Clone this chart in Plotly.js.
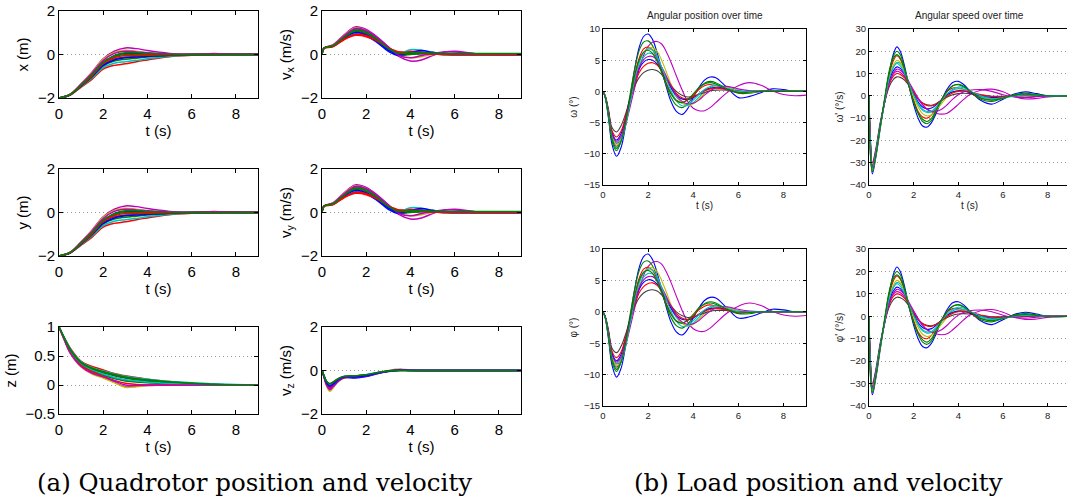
<!DOCTYPE html>
<html><head><meta charset="utf-8">
<script src="https://cdn.plot.ly/plotly-3.0.1.min.js"></script>
<style>html,body{margin:0;padding:0;overflow:hidden;background:#fff}#chart{width:1072px;height:503px}</style>
</head><body><div id="chart"></div>
<script>
// ---------- DATA ----------
const tPos = [0,0.5,1,1.5,2,2.5,3,3.5,4,5,6,7,8,9];
const posCurves = [
  [-2,-1.83,-1.35,-0.8,-0.2,0.15,0.3,0.27,0.18,0.05,0.0,0.05,0.0,0],
  [-2,-1.83,-1.36,-0.82,-0.22,0.1,0.2,0.15,0.08,0.02,0,0,0,0],
  [-2,-1.85,-1.42,-0.95,-0.4,-0.05,0.05,0.05,0.03,0,0,0,0,0],
  [-2,-1.84,-1.4,-0.9,-0.35,-0.1,0.0,0.0,0,-0.02,0,0,0,0],
  [-2,-1.87,-1.5,-1.13,-0.67,-0.5,-0.43,-0.33,-0.25,-0.1,-0.04,-0.01,0,0],
  [-2,-1.86,-1.48,-1.08,-0.6,-0.4,-0.33,-0.27,-0.2,-0.08,-0.03,0,0,0],
  [-2,-1.85,-1.44,-0.98,-0.45,-0.2,-0.12,-0.1,-0.08,-0.04,-0.02,0,0,0],
  [-2,-1.86,-1.46,-1.03,-0.52,-0.3,-0.22,-0.17,-0.12,-0.05,0,0,0,0],
  [-2,-1.86,-1.45,-1.0,-0.5,-0.25,-0.15,-0.12,-0.08,-0.03,0,0,0,0],
  [-2,-1.84,-1.37,-0.85,-0.28,0.05,0.15,0.12,0.08,0.02,0.0,0.03,0.01,0],
  [-2,-1.85,-1.43,-0.97,-0.42,-0.15,-0.05,-0.05,-0.04,-0.02,0,0,0,0],
  [-2,-1.84,-1.41,-0.92,-0.36,-0.05,0.08,0.08,0.05,0.01,0,0,0,0]
];
const posColors = ['m','y','b','g','r','c','k','g','b','m','r','g'];

const tVel = [0,0.1,0.5,1,1.5,2,2.5,3,3.5,4,4.5,5,5.5,6,7,8,9];
const velCurves = [
  [0,0.3,0.45,0.9,1.27,1.15,0.8,0.35,-0.1,-0.3,-0.25,-0.05,0.1,0.15,0.03,0,0],
  [0,0.3,0.43,0.88,1.22,1.1,0.75,0.3,-0.05,-0.15,-0.1,0,0.03,0.02,0,0,0],
  [0,0.3,0.38,0.72,0.95,0.85,0.55,0.15,-0.05,0.05,0.1,0.05,0,0,0,0,0],
  [0,0.3,0.4,0.8,1.12,1.02,0.7,0.3,0.05,0.12,0.1,0.03,0,0,0,0,0],
  [0,0.28,0.36,0.68,0.88,0.82,0.6,0.3,0.12,0.15,0.1,0.05,0.02,0,0,0,0],
  [0,0.3,0.38,0.74,1.0,0.9,0.6,0.22,0.05,0.22,0.2,0.1,0.03,0,0,0,0],
  [0,0.3,0.39,0.76,1.05,0.96,0.66,0.28,0.05,0.02,0.03,0.02,0,0,0,0,0],
  [0,0.3,0.41,0.82,1.16,1.06,0.72,0.3,0.0,0.0,0.05,0.05,0.02,0,0,0,0],
  [0,0.3,0.39,0.75,1.02,0.9,0.58,0.2,0.0,0.1,0.18,0.1,0.02,0,0,0,0],
  [0,0.3,0.42,0.86,1.2,1.1,0.78,0.35,-0.05,-0.15,-0.05,0.05,0.12,0.12,0.03,0,0],
  [0,0.3,0.37,0.7,0.92,0.86,0.62,0.3,0.1,0.12,0.08,0.03,0,0,0,0,0],
  [0,0.3,0.4,0.79,1.08,1.0,0.68,0.28,0.05,0.08,0.08,0.06,0.05,0.05,0.05,0.05,0.05]
];
const velColors = ['m','y','b','g','r','c','k','g','b','m','r','g'];

const tZ = [0,0.25,0.5,1,1.5,2,2.5,3,3.5,4,5,6,7,8,9];
const zCurves = [
  [1,0.81,0.64,0.41,0.32,0.26,0.2,0.16,0.13,0.1,0.06,0.03,0.015,0,0],
  [1,0.81,0.63,0.4,0.3,0.24,0.19,0.15,0.12,0.1,0.06,0.04,0.02,0.01,0],
  [1,0.8,0.62,0.39,0.29,0.23,0.18,0.14,0.11,0.09,0.05,0.03,0.01,0,0],
  [1,0.8,0.61,0.38,0.27,0.21,0.16,0.12,0.09,0.07,0.04,0.02,0.01,0,0],
  [1,0.79,0.59,0.36,0.25,0.18,0.12,0.08,0.06,0.05,0.02,0.01,0,0,0],
  [1,0.79,0.58,0.35,0.24,0.17,0.11,0.07,0.05,0.04,0.02,0.01,0,0,0],
  [1,0.78,0.56,0.33,0.21,0.13,0.05,-0.03,-0.02,-0.01,0,0,0,0,0],
  [1,0.77,0.55,0.31,0.19,0.12,0.04,-0.04,-0.03,-0.01,0,0,0,0,0],
  [1,0.78,0.57,0.34,0.23,0.15,0.08,0.03,0.01,0,0,0,0,0,0],
  [1,0.8,0.6,0.37,0.26,0.19,0.13,0.09,0.07,0.05,0.03,0.01,0,0,0],
  [1,0.77,0.56,0.32,0.2,0.14,0.07,0.0,-0.01,0,0,0,0,0,0],
  [1,0.8,0.61,0.38,0.28,0.22,0.17,0.13,0.1,0.08,0.05,0.03,0.01,0,0]
];
const zColors = ['r','c','g','k','b','g','m','y','r','c','m','g'];

const tVz = [0,0.1,0.2,0.35,0.5,0.75,1,1.5,2,2.5,3,3.5,4,5,6,9];
const vzCurves = [
  [0,-0.35,-0.7,-0.95,-0.8,-0.5,-0.35,-0.3,-0.25,-0.12,0.0,0.07,0.02,0,0,0],
  [0,-0.33,-0.65,-0.88,-0.75,-0.48,-0.33,-0.3,-0.24,-0.12,-0.02,0.04,0.01,0,0,0],
  [0,-0.3,-0.6,-0.8,-0.7,-0.45,-0.32,-0.35,-0.28,-0.15,-0.05,0.0,0,0,0,0],
  [0,-0.3,-0.57,-0.76,-0.66,-0.42,-0.3,-0.28,-0.22,-0.1,-0.02,0.02,0,0,0,0],
  [0,-0.28,-0.52,-0.68,-0.6,-0.4,-0.28,-0.26,-0.2,-0.1,-0.03,0.01,0,0,0,0],
  [0,-0.27,-0.5,-0.64,-0.56,-0.38,-0.27,-0.24,-0.19,-0.09,-0.02,0.02,0,0,0,0],
  [0,-0.26,-0.48,-0.6,-0.53,-0.36,-0.27,-0.25,-0.2,-0.1,-0.03,0,0,0,0,0],
  [0,-0.32,-0.62,-0.84,-0.72,-0.46,-0.32,-0.31,-0.25,-0.13,-0.03,0.03,0.01,0,0,0],
  [0,-0.29,-0.55,-0.72,-0.63,-0.41,-0.29,-0.3,-0.24,-0.12,-0.03,0.01,0,0,0,0],
  [0,-0.27,-0.5,-0.62,-0.55,-0.37,-0.27,-0.25,-0.2,-0.1,-0.02,0.0,0,0,0,0]
];
const vzColors = ['y','m','b','r','g','c','k','m','b','g'];

const tAng = [0,0.1,0.25,0.4,0.6,0.8,1,1.2,1.4,1.6,1.8,2,2.2,2.4,2.6,2.8,3,3.25,3.5,3.75,4,4.25,4.5,4.75,5,5.5,6,6.5,7,7.5,8,8.5,9];
const angCurves = [
  [0,-1,-4.5,-8.5,-10.4,-9,-5.5,-1,3.5,7,8.8,9.2,8.3,6.2,3.5,0.8,-1.5,-3.2,-3.7,-2.8,-1.0,0.6,1.8,2.3,2.2,0.6,-1.0,-0.8,-0.2,0.4,0.3,0,0],
  [0,-0.8,-3.5,-6.5,-8.3,-7.8,-5.5,-2.5,0.5,3.5,5.8,7.2,7.9,8.0,7.6,6.4,4.8,2.5,0.3,-1.6,-2.7,-3.1,-3.1,-2.6,-1.8,-0.2,0.9,1.4,1.0,0.1,-0.5,-0.7,-0.6],
  [0,-1,-4.2,-8,-9.5,-8,-4.5,-0.5,3.5,6.5,7.9,8.1,7.3,5.5,3.2,1,-0.8,-2.2,-2.6,-2,-0.8,0.5,1.3,1.6,1.4,0.4,-0.3,-0.3,0,0,0,0,0],
  [0,-0.9,-3.8,-7.2,-8.8,-7.8,-4.8,-1.2,2.5,5.3,6.8,7.1,6.6,5.2,3.3,1.4,-0.2,-1.4,-1.8,-1.4,-0.6,0.3,0.9,1.1,0.9,0.3,-0.2,-0.1,0,0,0,0,0],
  [0,-0.8,-3.5,-6.8,-8.2,-7.4,-5,-1.8,1.5,4,5.5,6.1,6.0,5.2,3.8,2.2,0.6,-0.9,-1.8,-2.2,-1.8,-0.9,0,0.6,0.9,0.7,0.2,-0.1,0,0,0,0,0],
  [0,-0.8,-3.6,-7,-8.6,-7.8,-5.2,-1.7,1.8,4.5,6.2,6.9,7.0,6.4,5.0,3.2,1.3,-0.6,-1.8,-2.3,-2.0,-1.2,-0.3,0.4,0.8,0.6,0.1,-0.1,0,0,0,0,0],
  [0,-0.7,-3,-5.8,-6.5,-5.5,-3.6,-1.2,0.8,2.2,3.0,3.4,3.5,3.3,2.7,1.9,1.0,0,-0.6,-0.9,-0.8,-0.5,-0.2,0.1,0.2,0.2,0,0,0,0,0,0,0],
  [0,-0.8,-3.4,-6.6,-7.8,-6.8,-4.2,-1.2,1.6,3.6,4.7,5.1,5.0,4.4,3.3,2,0.7,-0.6,-1.2,-1.3,-1.0,-0.4,0.2,0.5,0.6,0.4,0,0,0,0,0,0,0],
  [0,-0.8,-3.3,-6.3,-7.3,-6.4,-4.1,-1.4,1.1,3.0,4.0,4.5,4.6,4.2,3.3,2.2,1,-0.3,-1.0,-1.2,-0.9,-0.4,0.1,0.4,0.5,0.3,0,0,0,0,0,0,0],
  [0,-0.8,-3.5,-6.9,-8,-7.2,-4.8,-1.6,1.4,3.8,5.1,5.6,5.6,5.0,3.9,2.5,1.0,-0.6,-1.6,-2.0,-1.9,-1.4,-0.6,0.1,0.6,0.8,0.4,0.1,0,0,0,0,0],
  [0,-0.9,-3.8,-7.4,-9,-8,-5.4,-1.8,1.8,4.6,6.2,6.8,6.6,5.6,3.9,2,0.2,-1.5,-2.3,-2.2,-1.4,-0.5,0.3,0.8,1.0,0.5,0,0,0,0,0,0,0],
  [0,-0.9,-3.9,-7.6,-9.2,-8,-5,-1.2,2.4,5.0,6.3,6.6,6.1,4.8,3.0,1.2,-0.3,-1.5,-1.8,-1.3,-0.4,0.6,1.2,1.4,1.2,0.4,-0.2,-0.1,0,0,0,0,0]
];
const angColors = ['b','m','g','r','c','y','k','b','r','m','c','g'];

const tRate = [0,0.05,0.15,0.3,0.5,0.7,0.9,1.1,1.25,1.4,1.6,1.8,2.0,2.2,2.4,2.6,2.8,3.0,3.25,3.5,3.75,4,4.25,4.5,5,5.5,6,6.5,7,7.5,8,9];
const rateCurves = [
  [0,-20,-35,-28,-15,-2,10,19,22,20,13,4,-4,-10,-13.5,-14,-12,-8,-2,3,6,6.5,5,2.5,-2,-3.7,-1.5,0.8,1.8,1.0,0,0],
  [0,-18,-32,-26,-14,-3,6,10,11,10.5,8.5,5,1.5,-1.5,-4,-6,-7,-7.8,-8.2,-7.8,-6,-3.8,-1.5,0.5,2.5,3.0,1.8,-0.3,-1.4,-1.2,-0.5,0],
  [0,-25,-33,-27,-14,-1,11,18,20,18.5,12,4,-3,-8,-11.5,-12.5,-11,-7,-2,2,4.5,5,4,2,-1.5,-2.5,-1,0.5,1.2,0.6,0,0],
  [0,-20,-34,-27,-14,-2,9,16,18,16.5,11,4,-2,-7,-9.5,-10,-8.5,-5.5,-1.5,2,3.5,3.5,2.8,1.5,-1,-1.8,-0.8,0.2,0.5,0.2,0,0],
  [0,-18,-33,-26,-14,-3,7,13,15,14.5,11,5.5,0.5,-4,-6.5,-7.5,-7.2,-5.5,-2.5,0.5,2.5,3.2,3,2,-0.5,-1.5,-1,0,0.5,0.3,0,0],
  [0,-19,-34,-27,-14,-2.5,8,14,16,15,11,5,-0.5,-5,-8,-9,-8.5,-6.5,-3.5,-0.5,1.5,2.5,2.5,2,0,-1,-0.8,0,0.3,0.2,0,0],
  [0,-15,-30,-24,-12,-3,4,7.5,8.5,8.3,7,4.5,1.5,-1.5,-3.2,-4,-4.2,-3.5,-2,-0.5,0.5,1,1.2,1,0.3,-0.2,-0.2,0,0,0,0,0],
  [0,-18,-32,-26,-13,-2.5,6.5,11.5,13,12.3,9.5,5,0.8,-2.8,-5,-5.8,-5.5,-4,-1.8,0.5,1.8,2.3,2.2,1.5,0,-0.8,-0.5,0,0.2,0,0,0],
  [0,-17,-31,-25,-13,-3,5,9,10,9.6,8,5,1.8,-1.2,-3.3,-4.3,-4.5,-3.7,-2,0,1.3,2,2.1,1.8,0.6,-0.3,-0.4,0,0.2,0,0,0],
  [0,-17,-32,-25,-13,-3,5.5,10.5,12,11.5,9.5,6,2.5,-1,-4,-6,-7,-7,-6,-4,-1.5,0.5,1.8,2.5,2.8,2,0.5,-0.5,-0.8,-0.4,0,0],
  [0,-19,-33,-26,-13.5,-2.5,7.5,13,14.5,13.5,10,5,0.5,-3.5,-6,-7,-6.8,-5,-2,1,3,4,3.6,2.4,0,-1.2,-0.8,0,0.4,0.2,0,0],
  [0,-24,-34,-27,-14,-1.5,10,17,18.5,17,11.5,4,-2.5,-7.5,-10.5,-11.5,-10,-6.5,-1.8,2.2,4.5,5.2,4.3,2.3,-1,-2,-1,0.3,0.8,0.4,0,0]
];
const rateColors = ['b','m','g','r','c','y','k','b','r','m','c','g'];

const xTitle = 't (s)';
const panelTitles = ['Angular position over time', 'Angular speed over time'];
const captions = ['(a) Quadrotor position and velocity', '(b) Load position and velocity'];

// ---------- RENDERING ----------
const W = 1072, H = 503;
const COL = {b:'#0000ff', g:'#008000', r:'#ff0000', c:'#00bfbf', m:'#bf00bf', y:'#bfbf00', k:'#404040'};
const traces = [];
function sfx(n){ return n === 1 ? '' : String(n); }
function addSet(t, curves, colors, n, w) {
  curves.forEach((yv, i) => traces.push({
    type:'scatter', mode:'lines', x:t, y:yv,
    xaxis:'x'+sfx(n), yaxis:'y'+sfx(n),
    line:{color:COL[colors[i]], width:w, shape:'spline', smoothing:1},
    showlegend:false, hoverinfo:'skip'
  }));
}
const layout = {
  width:W, height:H, margin:{l:0,r:0,t:0,b:0},
  paper_bgcolor:'#fff', plot_bgcolor:'#fff', showlegend:false,
  annotations:[]
};
const FAM = '"Liberation Sans", Arial, Helvetica, sans-serif';
const bigTick = {family:FAM, size:15, color:'#000'};
const bigTitle = {family:FAM, size:15, color:'#000'};
const smTick = {family:FAM, size:9.5, color:'#222'};
const smTitle = {family:FAM, size:10, color:'#222'};

function addAxes(n, x0, x1, y0, y1, yr, dt, ytitle, xtitleOn, small, xmax) {
  const s = sfx(n);
  const tf = small ? smTick : bigTick;
  const ttf = small ? smTitle : bigTitle;
  const xa = {
    domain:[x0/W, x1/W], range:[0, xmax || 9], tick0:0, dtick:2, anchor:'y'+s,
    ticks:'inside', ticklen: small ? 3 : 4, tickcolor:'#000', tickwidth:1,
    showline:true, mirror:'ticks', linecolor:'#000', linewidth:1,
    showgrid:false, zeroline:false, tickfont:tf, fixedrange:true,
    ticklabelstandoff: small ? 1 : 2
  };
  if (xtitleOn) xa.title = {text:xTitle, font:ttf, standoff: small ? 2 : 4};
  layout['xaxis'+s] = xa;
  layout['yaxis'+s] = {
    domain:[1 - y1/H, 1 - y0/H], range:yr, tick0:yr[0], dtick:dt, anchor:'x'+s,
    ticks:'inside', ticklen: small ? 3 : 4, tickcolor:'#000', tickwidth:1,
    showline:true, mirror:'ticks', linecolor:'#000', linewidth:1,
    showgrid:true, gridcolor:'#999999', griddash:'1px,3px', gridwidth:1,
    zeroline:false, tickfont:tf, fixedrange:true,
    title:{text:ytitle, font:ttf, standoff: small ? 4 : 5}
  };
}

// left block
addAxes(1, 59, 258, 11, 98, [-2,2], 2, 'x (m)', true, false);
addAxes(2, 322, 521, 11, 98, [-2,2], 2, 'v<sub>x</sub> (m/s)', true, false);
addAxes(3, 59, 258, 169, 256, [-2,2], 2, 'y (m)', true, false);
addAxes(4, 322, 521, 169, 256, [-2,2], 2, 'v<sub>y</sub> (m/s)', true, false);
addAxes(5, 59, 258, 327, 414, [-0.5,1], 0.5, 'z (m)', true, false);
addAxes(6, 322, 521, 327, 414, [-2,2], 2, 'v<sub>z</sub> (m/s)', true, false);
// right block
addAxes(7, 603, 806, 29, 185, [-15,10], 5, 'ω (°)', true, true);
addAxes(8, 869, 1070, 29, 185, [-40,30], 10, "ω' (°/s)", true, true);
addAxes(9, 603, 806, 249, 406, [-15,10], 5, 'φ (°)', false, true);
addAxes(10, 869, 1070, 249, 406, [-40,30], 10, "φ' (°/s)", false, true);

addSet(tPos, posCurves, posColors, 1, 1.5);
addSet(tVel, velCurves, velColors, 2, 1.5);
addSet(tPos, posCurves, posColors, 3, 1.5);
addSet(tVel, velCurves, velColors, 4, 1.5);
addSet(tZ, zCurves, zColors, 5, 1.5);
addSet(tVz, vzCurves, vzColors, 6, 1.5);
addSet(tAng, angCurves, angColors, 7, 1.1);
addSet(tRate, rateCurves, rateColors, 8, 1.1);
addSet(tAng, angCurves, angColors, 9, 1.1);
addSet(tRate, rateCurves, rateColors, 10, 1.1);

const capFont = {family:'"DejaVu Serif", serif', size:24.5, color:'#000'};
layout.annotations.push(
  {text:panelTitles[0], xref:'paper', yref:'paper', x:704.5/W, y:1-16/H, showarrow:false, xanchor:'center', yanchor:'middle', font:smTitle},
  {text:panelTitles[1], xref:'paper', yref:'paper', x:969.5/W, y:1-16/H, showarrow:false, xanchor:'center', yanchor:'middle', font:smTitle},
  {text:captions[0], xref:'paper', yref:'paper', x:254/W, y:1-482/H, showarrow:false, xanchor:'center', yanchor:'middle', font:capFont},
  {text:captions[1], xref:'paper', yref:'paper', x:818/W, y:1-482/H, showarrow:false, xanchor:'center', yanchor:'middle', font:capFont}
);

Plotly.newPlot('chart', traces, layout, {staticPlot:true, displayModeBar:false});
</script>
</body></html>
